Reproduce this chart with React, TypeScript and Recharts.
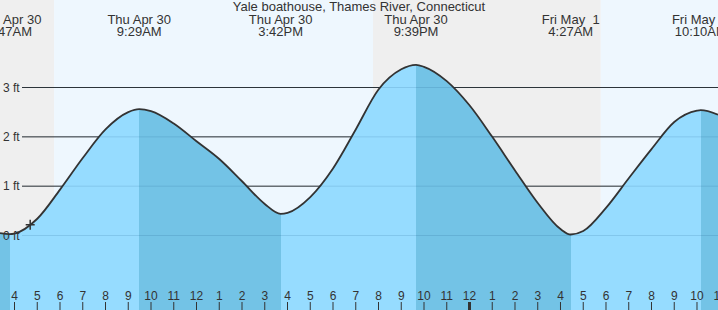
import React from 'react';
import {
  ComposedChart,
  Area,
  XAxis,
  YAxis,
  ReferenceArea,
  ReferenceLine,
  ReferenceDot,
} from 'recharts';

const FONT = '"Liberation Sans", Arial, Helvetica, sans-serif';
const TEXT = '#333333';

const chartTitle = 'Yale boathouse, Thames River, Connecticut';

// hours counted from midnight, Thu Apr 30
const sampleHours = [3.3626, 4, 5, 6, 7, 8, 9, 10, 11, 12, 13, 14, 15, 16, 17, 18, 19, 20, 21, 22, 23, 24, 25, 26, 27, 28, 29, 30, 31, 32, 33, 34, 34.9231];
const sampleFeet = [0.05, 0.04, 0.34, 0.93, 1.57, 2.15, 2.5, 2.52, 2.27, 1.91, 1.55, 1.1, 0.64, 0.46, 0.78, 1.36, 2.15, 2.96, 3.37, 3.42, 3.13, 2.64, 2.0, 1.32, 0.66, 0.13, 0.09, 0.56, 1.16, 1.75, 2.3, 2.53, 2.45];

const eventHours = [3.783, 9.483, 15.7, 21.65, 28.45, 34.167];
const eventFeet = [0.03, 2.56, 0.44, 3.46, 0.02, 2.54];
const eventDays = ['Thu Apr 30', 'Thu Apr 30', 'Thu Apr 30', 'Thu Apr 30', 'Fri May  1', 'Fri May  1'];
const eventTimes = ['3:47AM', '9:29AM', '3:42PM', '9:39PM', '4:27AM', '10:10AM'];
const eventKinds = ['low', 'high', 'low', 'high', 'low', 'high'];

const sunHours = [5.74, 19.76, 29.77]; // sunrise, sunset, sunrise
const sunKinds = ['rise', 'set', 'rise'];

const hourTicks = [4, 5, 6, 7, 8, 9, 10, 11, 12, 13, 14, 15, 16, 17, 18, 19, 20, 21, 22, 23, 24, 25, 26, 27, 28, 29, 30, 31, 32, 33, 34, 35];
const hourLabels = ['4', '5', '6', '7', '8', '9', '10', '11', '12', '1', '2', '3', '4', '5', '6', '7', '8', '9', '10', '11', '12', '1', '2', '3', '4', '5', '6', '7', '8', '9', '10', '11'];

const levelTicks = [0, 1, 2, 3];
const levelLabels = ['0 ft', '1 ft', '2 ft', '3 ft'];

const nowHour = 4.69;
const nowFeet = 0.22;

// layout
const W = 718;
const H = 310;
const xDomain: [number, number] = [3.3626, 34.9231];
const yDomain: [number, number] = [-1.51, 4.774];
const LINE_START = 22;

const COL_RISE = '#96dcff';
const COL_FALL = '#73c3e6';
const COL_NIGHT = '#efefef';
const COL_DAY = '#eef7fe';

const data = [
  ...sampleHours.map((h, i) => ({ h, ft: sampleFeet[i] })),
  ...eventHours.map((h, i) => ({ h, ft: eventFeet[i] })),
].sort((a, b) => a.h - b.h);

const span = xDomain[1] - xDomain[0];
const gradStops: { off: number; color: string }[] = [];
{
  let prev = eventKinds[0] === 'low' ? COL_FALL : COL_RISE;
  gradStops.push({ off: 0, color: prev });
  eventHours.forEach((h, i) => {
    const off = (h - xDomain[0]) / span;
    const next = eventKinds[i] === 'low' ? COL_RISE : COL_FALL;
    gradStops.push({ off, color: prev });
    gradStops.push({ off, color: next });
    prev = next;
  });
  gradStops.push({ off: 1, color: prev });
}

const bands: { x1: number; x2: number; fill: string }[] = [];
{
  let start = xDomain[0];
  sunHours.forEach((h, i) => {
    bands.push({ x1: start, x2: h, fill: sunKinds[i] === 'rise' ? COL_NIGHT : COL_DAY });
    start = h;
  });
  bands.push({ x1: start, x2: xDomain[1], fill: sunKinds[sunKinds.length - 1] === 'rise' ? COL_DAY : COL_NIGHT });
}

const hourTickShape = (label: string, midnight: boolean) => (p: any) => (
  <g>
    <text x={p.x1} y={300} textAnchor="middle" fontSize={12} fontFamily={FONT} fill={TEXT}>
      {label}
    </text>
    <line x1={p.x1} x2={p.x1} y1={302} y2={310} stroke={TEXT} strokeWidth={midnight ? 3 : 1} />
  </g>
);

const eventLabelShape = (day: string, time: string) => (p: any) => (
  <g>
    <text x={p.x1} y={24} textAnchor="middle" fontSize={13} fontFamily={FONT} fill={TEXT} style={{ whiteSpace: 'pre' }}>
      {day}
    </text>
    <text x={p.x1} y={36} textAnchor="middle" fontSize={13} fontFamily={FONT} fill={TEXT}>
      {time}
    </text>
  </g>
);

const darkLine = (p: any) => (
  <line x1={LINE_START} y1={p.y1} x2={p.x2} y2={p.y2} stroke="#333333" strokeWidth={1} />
);
const paleLine = (p: any) => (
  <line x1={LINE_START} y1={p.y1} x2={p.x2} y2={p.y2} stroke="rgba(0,60,110,0.13)" strokeWidth={1} />
);

const NowMark = (p: any) => {
  const { cx, cy } = p;
  return (
    <path d={`M${cx - 4.5},${cy}H${cx + 4.5}M${cx},${cy - 5}V${cy + 5}`} stroke="#333333" strokeWidth={1.5} fill="none" />
  );
};

export default function App() {
  return (
    <div style={{ position: 'absolute', left: 0, top: 0, width: W, height: H, fontFamily: FONT }}>
      <ComposedChart width={W} height={H} data={data} margin={{ top: 0, right: 0, bottom: 0, left: 0 }}>
        <defs>
          <linearGradient id="tideFill" x1="0" y1="0" x2="1" y2="0">
            {gradStops.map((s, i) => (
              <stop key={i} offset={s.off} stopColor={s.color} />
            ))}
          </linearGradient>
        </defs>
        <XAxis xAxisId="b" dataKey="h" type="number" domain={xDomain} allowDataOverflow hide />
        <YAxis type="number" domain={yDomain} allowDataOverflow hide width={0} />

        {bands.map((b, i) => (
          <ReferenceArea
            key={'band' + i}
            xAxisId="b"
            x1={b.x1}
            x2={b.x2}
            ifOverflow="hidden"
            fill={b.fill}
            fillOpacity={1}
            stroke="none"
            zIndex={-300}
          />
        ))}

        {levelTicks
          .filter((v) => v > 0)
          .map((v) => (
            <ReferenceLine key={'dark' + v} xAxisId="b" y={v} shape={darkLine} zIndex={-200} />
          ))}

        <Area
          xAxisId="b"
          type="monotone"
          dataKey="ft"
          baseValue={yDomain[0]}
          fill="url(#tideFill)"
          fillOpacity={1}
          stroke="#333333"
          strokeWidth={1.8}
          dot={false}
          activeDot={false}
          isAnimationActive={false}
          zIndex={100}
        />

        {levelTicks.map((v, i) => (
          <ReferenceLine
            key={'pale' + v}
            xAxisId="b"
            y={v}
            shape={paleLine}
            zIndex={150}
            label={{ value: levelLabels[i], position: 'insideLeft', offset: 3, fill: TEXT, fontSize: 12, fontFamily: FONT }}
          />
        ))}

        {hourTicks.map((h, i) => (
          <ReferenceLine
            key={'hr' + h}
            xAxisId="b"
            x={h}
            ifOverflow="visible"
            shape={hourTickShape(hourLabels[i], h % 24 === 0)}
            zIndex={500}
          />
        ))}

        {eventHours.map((h, i) => (
          <ReferenceLine
            key={'ev' + i}
            xAxisId="b"
            x={h}
            ifOverflow="visible"
            shape={eventLabelShape(eventDays[i], eventTimes[i])}
            zIndex={500}
          />
        ))}

        <ReferenceDot xAxisId="b" x={nowHour} y={nowFeet} shape={NowMark} zIndex={600} />
      </ComposedChart>
      <div
        style={{
          position: 'absolute',
          left: 0,
          top: 0,
          width: W,
          textAlign: 'center',
          fontSize: 13,
          lineHeight: '13px',
          color: TEXT,
          fontFamily: FONT,
          pointerEvents: 'none',
        }}
      >
        {chartTitle}
      </div>
    </div>
  );
}
